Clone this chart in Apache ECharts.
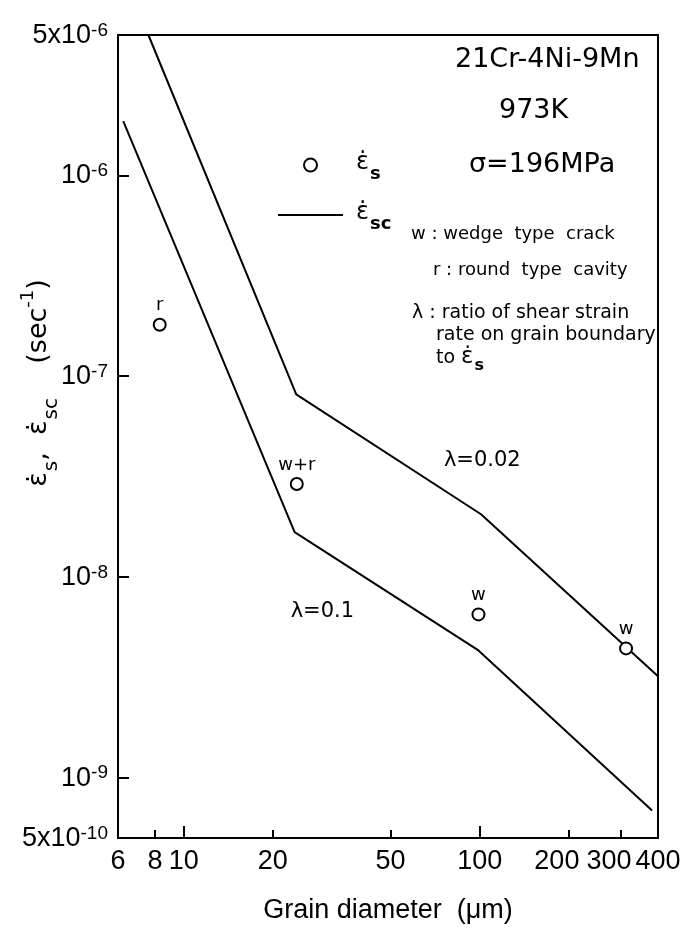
<!DOCTYPE html>
<html>
<head>
<meta charset="utf-8">
<script src="https://cdn.jsdelivr.net/npm/echarts@6/dist/echarts.min.js"></script>
<style>
html,body{margin:0;padding:0;background:#fff;}
#chart{width:696px;height:932px;}
</style>
</head>
<body>
<div id="chart"></div>
<script>
// ---- data ----
const xMin = 6, xMax = 400;
const yMin = 5e-10, yMax = 5e-6;
const xTickLabels = [6, 8, 10, 20, 50, 100, 200, 300, 400];
const xLongTicks = [10, 100];
const xShortTicks = [8, 20, 50, 200, 300];
const yTickLabels = [5e-10, 1e-9, 1e-8, 1e-7, 1e-6, 5e-6];
const yTicks = [1e-9, 1e-8, 1e-7, 1e-6];

// strain rate on grain boundary lines (epsilon_sc)
const lineLambda002 = [[7.6, 5e-6], [24, 8.1e-8], [101, 2.05e-8], [400, 3.2e-9]];
const lineLambda01 = [[6.25, 1.86e-6], [23.7, 1.67e-8], [99, 4.3e-9], [382, 6.85e-10]];

// measured steady state strain rate (epsilon_s)
const ptDiam = [8.3, 24.1, 99, 312];
const ptRate = [1.8e-7, 2.9e-8, 6.5e-9, 4.4e-9];
const ptType = ['r', 'w+r', 'w', 'w'];

// lambda annotations
const lamText = ['λ=0.02', 'λ=0.1'];
const lamPos = [[102, 3.8e-8], [29.4, 6.7e-9]];

const FONT = '"Liberation Sans", "DejaVu Sans", sans-serif';
const DJ = '"DejaVu Sans", sans-serif';

function powLabel(v) {
  const lg = Math.log10(v);
  const e = Math.floor(lg + 1e-9);
  const m = Math.round(v / Math.pow(10, e));
  const base = m === 1 ? '10' : m + 'x10';
  return '{b|' + base + '}{s|-' + Math.abs(e) + '}';
}
function xLabel(v) {
  const n = Math.round(v);
  if (n === 200 || n === 300) return '{l|' + n + '}';
  if (n === 400) return '{m|' + n + '}';
  return '{n|' + n + '}';
}

const chart = echarts.init(document.getElementById('chart'), null, {renderer: 'canvas'});

const epsRich = {
  e: {fontSize: 24, fontFamily: DJ, color: '#000', lineHeight: 28, verticalAlign: 'top'},
  sub: {fontSize: 18, fontFamily: DJ, color: '#000', fontWeight: 'bold', lineHeight: 18, padding: [14, 0, 0, 1], verticalAlign: 'top'}
};

const option = {
  animation: false,
  backgroundColor: '#fff',
  grid: {
    left: 118, right: 38, top: 35, bottom: 94,
    show: true, borderColor: '#000', borderWidth: 2,
    outerBoundsMode: 'none'
  },
  legend: {
    orient: 'vertical', left: 273, top: 146,
    itemWidth: 65, itemHeight: 13, itemGap: 18,
    data: [
      {name: 'es', icon: 'circle'},
      {name: 'esc', icon: 'path://M0,0H100V3H0Z'}
    ],
    formatter: function (n) { return n === 'es' ? '{e|ε̇}{sub|s}' : '{e|ε̇}{sub|sc}'; },
    textStyle: {rich: epsRich, padding: [0, 0, 0, 8]},
    selectedMode: false
  },
  xAxis: [{
    type: 'log', logBase: 10, min: xMin, max: xMax,
    name: 'Grain diameter  (μm)', nameLocation: 'middle', nameGap: 59,
    nameTextStyle: {fontSize: 27, fontFamily: FONT, color: '#000'},
    axisLine: {show: true, lineStyle: {color: '#000', width: 2}},
    axisTick: {show: true, inside: true, length: 12, lineStyle: {color: '#000', width: 2}, customValues: xLongTicks},
    axisLabel: {show: true, customValues: xTickLabels, margin: 10, showMaxLabel: true, showMinLabel: true, hideOverlap: false,
      formatter: xLabel,
      rich: {
        n: {fontSize: 27, fontFamily: FONT, color: '#000'},
        l: {fontSize: 27, fontFamily: FONT, color: '#000', padding: [0, 24, 0, 0]},
        m: {fontSize: 27, fontFamily: FONT, color: '#000', padding: [0, 0, 0, 0]}
      }},
    splitLine: {show: false}, minorTick: {show: false}
  }, {
    type: 'log', logBase: 10, min: xMin, max: xMax, position: 'bottom',
    axisLine: {show: false},
    axisTick: {show: true, inside: true, length: 8, lineStyle: {color: '#000', width: 2}, customValues: xShortTicks},
    axisLabel: {show: false},
    splitLine: {show: false}
  }],
  yAxis: {
    type: 'log', logBase: 10, min: yMin, max: yMax,
    axisLine: {show: true, lineStyle: {color: '#000', width: 2}},
    axisTick: {show: true, inside: true, length: 11, lineStyle: {color: '#000', width: 2}, customValues: yTicks},
    axisLabel: {
      show: true, customValues: yTickLabels, margin: 10,
      formatter: powLabel,
      rich: {
        b: {fontSize: 27, fontFamily: FONT, color: '#000', lineHeight: 28, verticalAlign: 'bottom'},
        s: {fontSize: 19, fontFamily: FONT, color: '#000', lineHeight: 19, padding: [0, 0, 16, 0], verticalAlign: 'top'}
      }
    },
    splitLine: {show: false}, minorTick: {show: false}
  },
  graphic: [
    {type: 'text', x: 35, y: 383, rotation: Math.PI / 2, style: {
      text: '{e|ε̇}{sub|s}{e|,  ε̇}{sub|sc}{e|    (sec}{sup|-1}{e|)}',
      align: 'center', verticalAlign: 'middle',
      rich: {
        e: {fontSize: 27, fontFamily: DJ, fill: '#000', lineHeight: 32, verticalAlign: 'top', padding: [6, 0, 0, 0]},
        sub: {fontSize: 20, fontFamily: DJ, fill: '#000', lineHeight: 20, padding: [23, 0, 0, 1], verticalAlign: 'top'},
        sup: {fontSize: 18, fontFamily: DJ, fill: '#000', lineHeight: 18, verticalAlign: 'top'}
      }
    }},
    {type: 'text', left: 455, top: 46, style: {text: '21Cr-4Ni-9Mn', font: '27px ' + DJ, fill: '#000'}},
    {type: 'text', left: 499, top: 97, style: {text: '973K', font: '27px ' + DJ, fill: '#000'}},
    {type: 'text', left: 469, top: 151, style: {text: 'σ=196MPa', font: '27px ' + DJ, fill: '#000'}},
    {type: 'text', left: 411, top: 225, style: {text: 'w : wedge  type  crack', font: '18px ' + DJ, fill: '#000'}},
    {type: 'text', left: 433, top: 261, style: {text: 'r : round  type  cavity', font: '18px ' + DJ, fill: '#000'}},
    {type: 'text', left: 412, top: 304, style: {text: 'λ : ratio of shear strain', font: '19px ' + DJ, fill: '#000'}},
    {type: 'text', left: 436, top: 326, style: {text: 'rate on grain boundary', font: '19px ' + DJ, fill: '#000'}},
    {type: 'text', left: 436, top: 346, style: {
      text: '{t|to }{e|ε̇}{sub|s}',
      rich: {
        t: {fontSize: 19, fontFamily: DJ, fill: '#000', lineHeight: 24, verticalAlign: 'top', padding: [3, 0, 0, 0]},
        e: {fontSize: 23, fontFamily: DJ, fill: '#000', lineHeight: 24, verticalAlign: 'top'},
        sub: {fontSize: 16, fontFamily: DJ, fontWeight: 'bold', fill: '#000', lineHeight: 16, padding: [12, 0, 0, 1], verticalAlign: 'top'}
      }
    }}
  ],
  series: [
    {
      name: 'esc', type: 'line', data: lineLambda002, symbol: 'none', z: 2,
      lineStyle: {color: '#000', width: 2}, itemStyle: {color: '#000'}
    },
    {
      name: 'esc', type: 'line', data: lineLambda01, symbol: 'none', z: 2,
      lineStyle: {color: '#000', width: 2}, itemStyle: {color: '#000'}
    },
    {
      name: 'es', type: 'scatter', z: 5,
      data: ptDiam.map(function (d, i) { return {value: [d, ptRate[i]], name: ptType[i]}; }),
      symbol: 'circle', symbolSize: 12,
      itemStyle: {color: '#fff', borderColor: '#000', borderWidth: 2, opacity: 1},
      label: {show: true, position: 'top', distance: 3, formatter: '{b}', fontSize: 18, fontFamily: DJ, color: '#000'}
    },
    {
      name: 'lambda', type: 'scatter', z: 4, symbolSize: 1,
      itemStyle: {color: '#000', opacity: 0},
      data: lamPos.map(function (p, i) { return {value: p, name: lamText[i]}; }),
      label: {show: true, position: 'inside', formatter: '{b}', fontSize: 21, fontFamily: DJ, color: '#000', opacity: 1}
    }
  ]
};
chart.setOption(option);
</script>
</body>
</html>
